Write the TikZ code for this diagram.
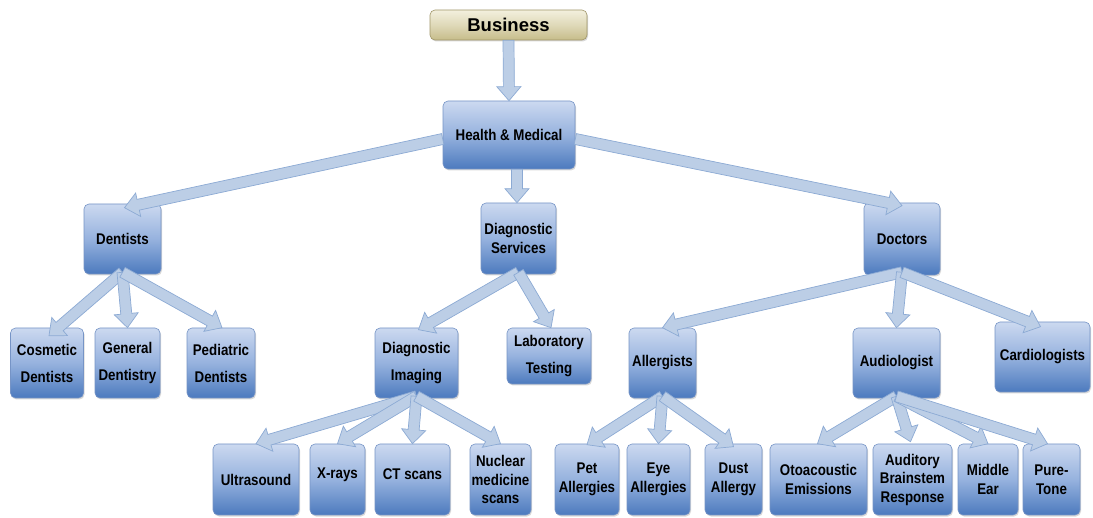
\documentclass[tikz,border=0pt]{standalone}
\usepackage{fontspec}
\setmainfont{Liberation Sans}[FakeStretch=0.86]
\newfontfamily\bizfont{Liberation Sans}
\usetikzlibrary{calc,shadows}
\definecolor{boxtop}{RGB}{204,217,240}
\definecolor{boxmid}{RGB}{150,178,222}
\definecolor{boxbot}{RGB}{76,122,190}
\definecolor{boxedge}{RGB}{118,148,198}
\definecolor{biztop}{RGB}{243,240,222}
\definecolor{bizbot}{RGB}{198,188,138}
\definecolor{bizedge}{RGB}{160,150,104}
\definecolor{arrfill}{RGB}{188,206,230}
\definecolor{arredge}{RGB}{140,170,212}
\newcommand\blockarrow[2]{%
  \coordinate (ba) at (#1);
  \coordinate (bb) at (#2);
  \coordinate (bh) at ($(bb)!14pt!(ba)$);
  \filldraw[arrowstyle] ($(ba)!5.5pt!90:(bb)$) -- ($(bh)!5.5pt!90:(bb)$) -- ($(bh)!12pt!90:(bb)$) -- (bb)
    -- ($(bh)!12pt!-90:(bb)$) -- ($(bh)!5.5pt!-90:(bb)$) -- ($(ba)!5.5pt!-90:(bb)$) -- cycle;
}
\begin{document}
\begin{tikzpicture}[x=1pt,y=-1pt,
  sz/.style 2 args={minimum width=#1pt, minimum height=#2pt},
  box/.style={draw=boxedge, line width=0.6pt, rounded corners=5pt, top color=boxtop, bottom color=boxbot, middle color=boxmid,
    inner sep=0pt, align=center, font=\fontsize{15.5}{18.5}\selectfont\bfseries,
    drop shadow={shadow xshift=1pt, shadow yshift=-1.5pt, opacity=0.3}},
  wide/.style={font=\fontsize{15.5}{27}\selectfont\bfseries},
  biz/.style={draw=bizedge, line width=0.6pt, rounded corners=5pt, top color=biztop, bottom color=bizbot, middle color={biztop!55!bizbot},
    inner sep=0pt, align=center, font=\bizfont\fontsize{18.5}{22}\selectfont\bfseries,
    drop shadow={shadow xshift=1pt, shadow yshift=-1.5pt, opacity=0.3}},
  arrowstyle/.style={fill=arrfill, draw=arredge, line width=0.7pt, line join=miter}]
\fill[white] (0,0) rectangle (1093,518);
\useasboundingbox (0,0) rectangle (1093,518);
% level 0-1
\node[biz, sz={157}{30}] (Biz) at (508.5,25) {Business};
\node[box, sz={132}{68}] (HM) at (509,135) {Health \& Medical};
% level 2
\node[box, sz={77}{70}] (Dent) at (122.5,239) {Dentists};
\node[box, sz={75}{71}] (DS) at (518.5,238.5) {Diagnostic\\Services};
\node[box, sz={76}{72}] (Doc) at (902,239) {Doctors};
% level 3
\node[box, wide, sz={73}{70}] (Cos) at (47,363) {Cosmetic\\Dentists};
\node[box, wide, sz={65}{70}] (Gen) at (127.5,363) {General\\Dentistry};
\node[box, wide, sz={68}{70}] (Ped) at (221,363) {Pediatric\\Dentists};
\node[box, wide, sz={83}{70}] (Img) at (416.5,363) {Diagnostic\\Imaging};
\node[box, wide, sz={84}{56}] (Lab) at (549,356) {Laboratory\\Testing};
\node[box, sz={67}{70}] (All) at (662.5,363) {Allergists};
\node[box, sz={87}{70}] (Aud) at (896.5,363) {Audiologist};
\node[box, sz={95}{70}] (Card) at (1042.5,357) {Cardiologists};
% level 4
\node[box, sz={86}{71}] (Ult) at (256,479.5) {Ultrasound};
\node[box, sz={55}{71}] (Xr) at (337.5,479.5) {\raisebox{13pt}{X-rays}};
\node[box, sz={75}{71}] (CT) at (412.5,479.5) {\raisebox{11pt}{CT scans}};
\node[box, sz={61}{71}] (Nuc) at (500.5,479.5) {Nuclear\\medicine\\scans};
\node[box, sz={64}{71}] (Pet) at (587,479.5) {Pet\\Allergies};
\node[box, sz={63}{71}] (Eye) at (658.5,479.5) {Eye\\Allergies};
\node[box, sz={57}{71}] (Dust) at (733.5,479.5) {Dust\\Allergy};
\node[box, sz={97}{71}] (Oto) at (818.5,479.5) {Otoacoustic\\Emissions};
\node[box, sz={79}{71}] (ABR) at (912.5,479.5) {Auditory\\Brainstem\\Response};
\node[box, sz={60}{71}] (Mid) at (988,479.5) {Middle\\Ear};
\node[box, sz={57}{71}] (Pure) at (1051.5,479.5) {Pure-\\Tone};
% arrows
\blockarrow{Biz.south}{HM.north}
\blockarrow{$(HM.west)+(0,4)$}{$(Dent.north)+(2,4)$}
\blockarrow{$(HM.south)+(8,0)$}{$(DS.north)+(-1.5,0)$}
\blockarrow{$(HM.east)+(0,4)$}{$(Doc.north)+(0,3)$}
\blockarrow{$(Dent.south)+(0,-2)$}{$(Cos.north)+(2,8)$}
\blockarrow{$(Dent.south)+(0,-2)$}{Gen.north}
\blockarrow{$(Dent.south)+(0,-2)$}{$(Ped.north)+(1,0)$}
\blockarrow{$(DS.south)+(0,-2)$}{$(Img.north)+(2,2)$}
\blockarrow{$(DS.south)+(0,-2)$}{$(Lab.north)+(2,0)$}
\blockarrow{$(Doc.south)+(0,-3)$}{All.north}
\blockarrow{$(Doc.south)+(0,-3)$}{Aud.north}
\blockarrow{$(Doc.south)+(0,-3)$}{$(Card.north)+(-2,5)$}
\blockarrow{$(Img.south)+(0,-2)$}{Ult.north}
\blockarrow{$(Img.south)+(0,-2)$}{Xr.north}
\blockarrow{$(Img.south)+(0,-2)$}{CT.north}
\blockarrow{$(Img.south)+(0,-2)$}{Nuc.north}
\blockarrow{$(All.south)+(0,-2)$}{$(Pet.north)+(0,1)$}
\blockarrow{$(All.south)+(0,-2)$}{Eye.north}
\blockarrow{$(All.south)+(0,-2)$}{$(Dust.north)+(0,3)$}
\blockarrow{$(Aud.south)+(0,-2)$}{$(Oto.north)+(-1,0)$}
\blockarrow{$(Aud.south)+(0,-2)$}{$(ABR.north)+(-2,-2)$}
\blockarrow{$(Aud.south)+(0,-2)$}{Mid.north}
\blockarrow{$(Aud.south)+(0,-2)$}{$(Pure.north)+(-4,0)$}
\end{tikzpicture}
\end{document}
